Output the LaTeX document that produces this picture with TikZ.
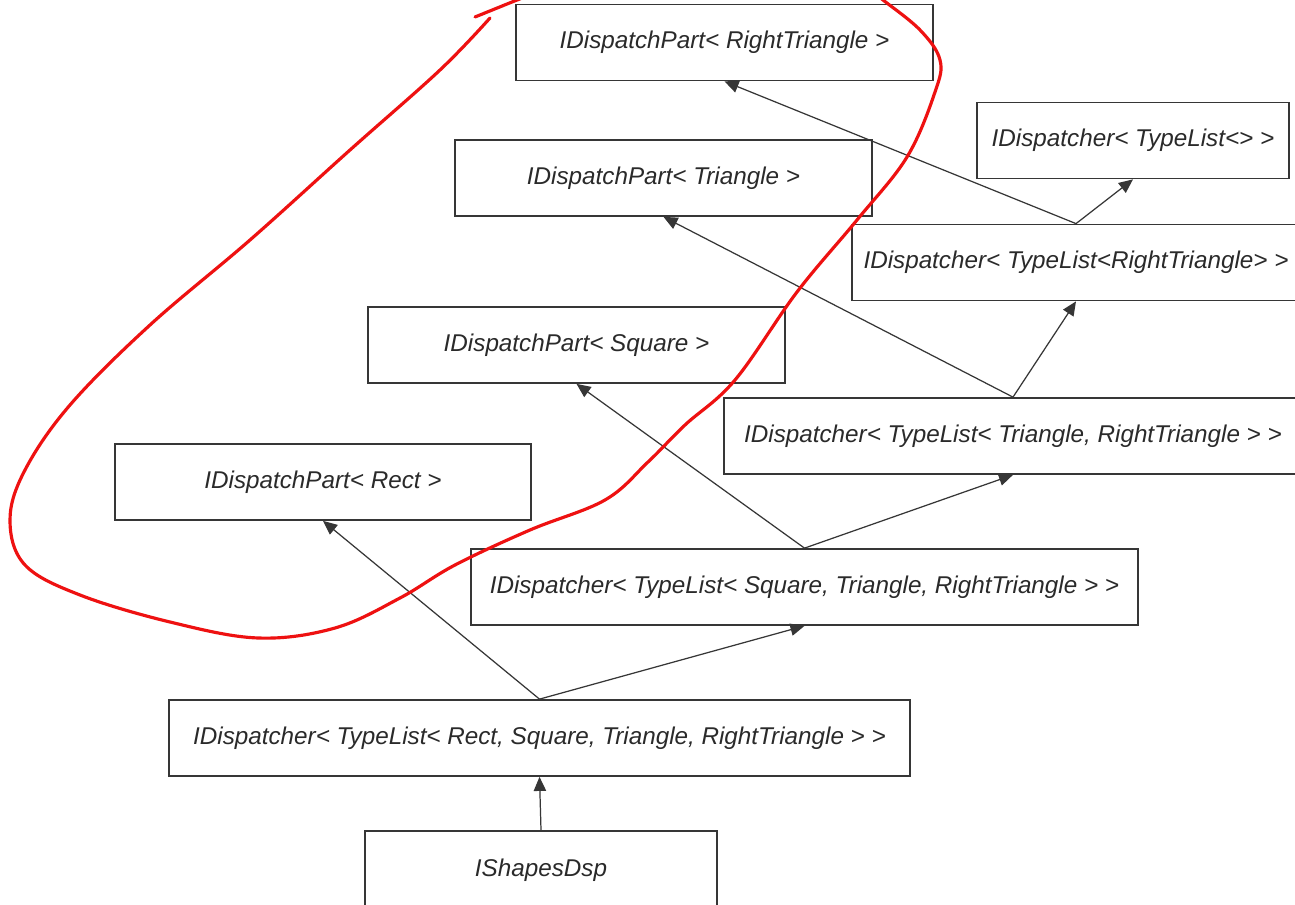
\documentclass[tikz,border=0pt]{standalone}
\usepackage{fontspec}
\setmainfont{Liberation Sans}
\usetikzlibrary{arrows.meta,calc}
\definecolor{boxline}{HTML}{363636}
\definecolor{labeltext}{HTML}{2A2A2A}
\definecolor{markred}{HTML}{EE1111}

\begin{document}
\begin{tikzpicture}[
  x=0.02cm, y=-0.02cm,
  classbox/.style={
    rectangle, draw=boxline, line width=1pt, fill=white,
    minimum height=1.52cm, inner sep=4pt,
    font=\fontsize{13.8}{16}\selectfont\itshape\color{labeltext},
  },
  inherits/.style={-{Triangle[length=8pt, width=7pt]}, line width=0.7pt, boxline},
  freehand/.style={markred, line width=1.8pt, line cap=round},
]
\clip (0,0) rectangle (1295,905);
\fill[white] (0,0) rectangle (1295,905);

% IDispatchPart boxes
\node[classbox, minimum width=8.34cm] (partrt) at (724.5,42.5) {IDispatchPart< RightTriangle >};
\node[classbox, minimum width=8.34cm] (parttri) at (663.5,178) {IDispatchPart< Triangle >};
\node[classbox, minimum width=8.34cm] (partsq) at (576.5,345) {IDispatchPart< Square >};
\node[classbox, minimum width=8.32cm] (partrect) at (323,482) {IDispatchPart< Rect >};

% IDispatcher chain
\node[classbox, minimum width=6.24cm] (dsp0) at (1133,140.5) {IDispatcher< TypeList<> >};
\node[classbox, minimum width=8.96cm] (dsp1) at (1076,262.5) {IDispatcher< TypeList<RightTriangle> >};
\node[classbox, minimum width=11.56cm] (dsp2) at (1013,436) {IDispatcher< TypeList< Triangle, RightTriangle > >};
\node[classbox, minimum width=13.34cm] (dsp3) at (804.5,587) {IDispatcher< TypeList< Square, Triangle, RightTriangle > >};
\node[classbox, minimum width=14.82cm] (dsp4) at (539.5,738) {IDispatcher< TypeList< Rect, Square, Triangle, RightTriangle > >};

% Concrete dispatcher
\node[classbox, minimum width=7.04cm, minimum height=1.58cm] (shapes) at (541,870.5) {IShapesDsp};

% Inheritance arrows
\draw[inherits] (shapes.north) -- (dsp4.south);
\draw[inherits] (dsp4.north) -- (partrect.south);
\draw[inherits] (dsp4.north) -- (dsp3.south);
\draw[inherits] (dsp3.north) -- (partsq.south);
\draw[inherits] (dsp3.north) -- (dsp2.south);
\draw[inherits] (dsp2.north) -- (parttri.south);
\draw[inherits] (dsp2.north) -- (dsp1.south);
\draw[inherits] (dsp1.north) -- (partrt.south);
\draw[inherits] (dsp1.north) -- (dsp0.south);

% Hand-drawn loop round the IDispatchPart boxes
\draw[freehand] plot[smooth, tension=0.6] coordinates {
  (490,18) (440,70) (350,150) (250,240) (150,325) (70,405) (25,470)
  (10,520) (25,565) (80,595) (170,622) (258,638) (335,628) (400,598)
  (455,565) (530,530) (605,500) (648,462) (685,425) (735,380) (797,292)
  (857,220) (907,157) (935,92) (940,60) (920,30) (883,0) (870,-10)};
\draw[freehand] (475,17) -- (512,2) -- (530,-5);

\end{tikzpicture}
\end{document}
